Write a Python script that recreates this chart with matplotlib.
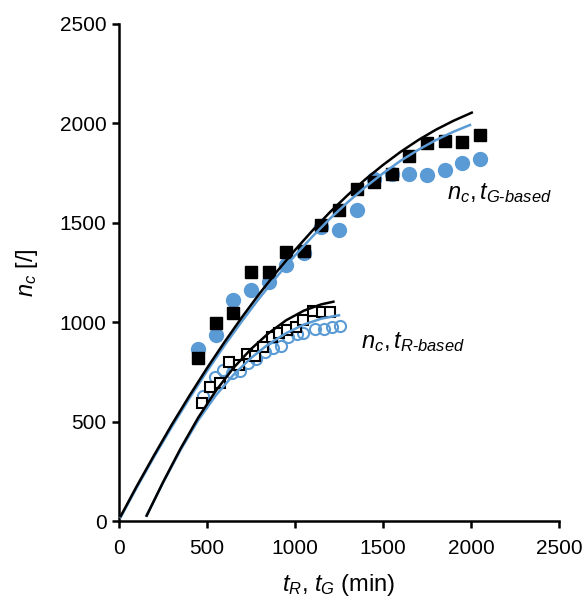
import matplotlib
matplotlib.use("Agg")
from matplotlib import pyplot as plt

plt.rcParams['font.family'] = ['Liberation Sans', 'DejaVu Sans']
plt.rcParams['mathtext.fontset'] = 'custom'
plt.rcParams['mathtext.it'] = 'Liberation Sans:italic'
plt.rcParams['mathtext.rm'] = 'Liberation Sans'

blue = '#5b9bd5'

# G-based points (filled markers)
tG = [450, 550, 650, 750, 850, 950, 1050, 1150, 1250, 1350, 1450, 1550, 1650, 1750, 1850, 1950, 2050]
nG_sq = [818, 994, 1045, 1251, 1254, 1352, 1358, 1489, 1564, 1668, 1707, 1745, 1836, 1903, 1913, 1908, 1942]
nG_ci = [865, 935, 1112, 1162, 1204, 1290, 1350, 1480, 1464, 1562, 1718, 1745, 1747, 1740, 1766, 1799, 1819]

# R-based points (open markers)
tR_sq = [470, 515, 575, 627, 680, 725, 775, 818, 870, 908, 953, 1008, 1044, 1104, 1152, 1199]
nR_sq = [594, 676, 695, 800, 785, 842, 829, 873, 927, 948, 961, 975, 1011, 1058, 1053, 1050]
tR_ci = [478, 545, 592, 640, 688, 735, 780, 830, 877, 920, 962, 1010, 1047, 1115, 1162, 1208, 1255]
nR_ci = [630, 726, 760, 745, 755, 793, 815, 850, 869, 880, 927, 940, 944, 966, 968, 975, 982]

# trendlines
lineG_t = [10, 100, 200, 300, 400, 500, 600, 700, 800, 900, 1000, 1100, 1200, 1300,
           1400, 1500, 1600, 1700, 1800, 1900, 2004]
lineG_n = [25, 174, 332, 485, 630, 769, 901, 1027, 1146, 1258, 1363, 1462, 1555, 1640,
           1719, 1791, 1857, 1916, 1968, 2013, 2054]
lineGb_t = [10, 100, 200, 300, 400, 500, 600, 700, 800, 900, 1000, 1100, 1200, 1300,
            1400, 1500, 1600, 1700, 1800, 1900, 1994]
lineGb_n = [20, 167, 324, 474, 617, 754, 884, 1007, 1124, 1233, 1336, 1432, 1522, 1604,
            1680, 1749, 1812, 1867, 1916, 1958, 1992]
lineR_t = [157, 250, 350, 450, 550, 650, 750, 850, 950, 1050, 1150, 1218]
lineR_n = [27, 195, 365, 520, 655, 770, 865, 945, 1010, 1058, 1090, 1103]
lineRb_t = [157, 250, 350, 450, 550, 650, 750, 850, 950, 1050, 1150, 1250]
lineRb_n = [27, 192, 358, 507, 632, 735, 820, 890, 945, 988, 1018, 1035]

fig = plt.figure(figsize=(5.86, 6.01), dpi=100)
ax = fig.add_axes([0.2031, 0.1331, 0.7509, 0.827])

ax.plot(tG, nG_ci, 'o', color=blue, ms=10, mec=blue, zorder=2)
ax.plot(tG, nG_sq, 's', color='black', ms=8.5, zorder=3)
ax.plot(tR_ci, nR_ci, 'o', mfc='none', mec=blue, mew=1.5, ms=8, zorder=2)
ax.plot(tR_sq, nR_sq, 's', mfc='white', mec='black', mew=1.5, ms=7.5, zorder=3)

ax.plot(lineGb_t, lineGb_n, color=blue, lw=1.8, zorder=4)
ax.plot(lineG_t, lineG_n, color='black', lw=1.8, zorder=5)
ax.plot(lineRb_t, lineRb_n, color=blue, lw=1.8, zorder=4)
ax.plot(lineR_t, lineR_n, color='black', lw=1.8, zorder=5)

ax.text(1865, 1650, r'$n_c,t_{G\text{-}based}$', fontsize=17, va='center')
ax.text(1375, 900, r'$n_c,t_{R\text{-}based}$', fontsize=17, va='center')

ax.set_xlim(0, 2500)
ax.set_ylim(0, 2500)
ax.set_xticks(range(0, 2501, 500))
ax.set_yticks(range(0, 2501, 500))
for s in ['top', 'right']:
    ax.spines[s].set_visible(False)
for s in ['left', 'bottom']:
    ax.spines[s].set_linewidth(1.8)
ax.tick_params(labelsize=15, width=1.8, length=5, direction='out')
ax.tick_params(axis='x', pad=8)
ax.tick_params(axis='y', pad=4)
ax.set_xlabel(r'$t_R$, $t_G$ (min)', fontsize=17, labelpad=10)
ax.set_ylabel(r'$n_c$ [/]', fontsize=17, labelpad=14)

fig.savefig('out.png', dpi=100)
